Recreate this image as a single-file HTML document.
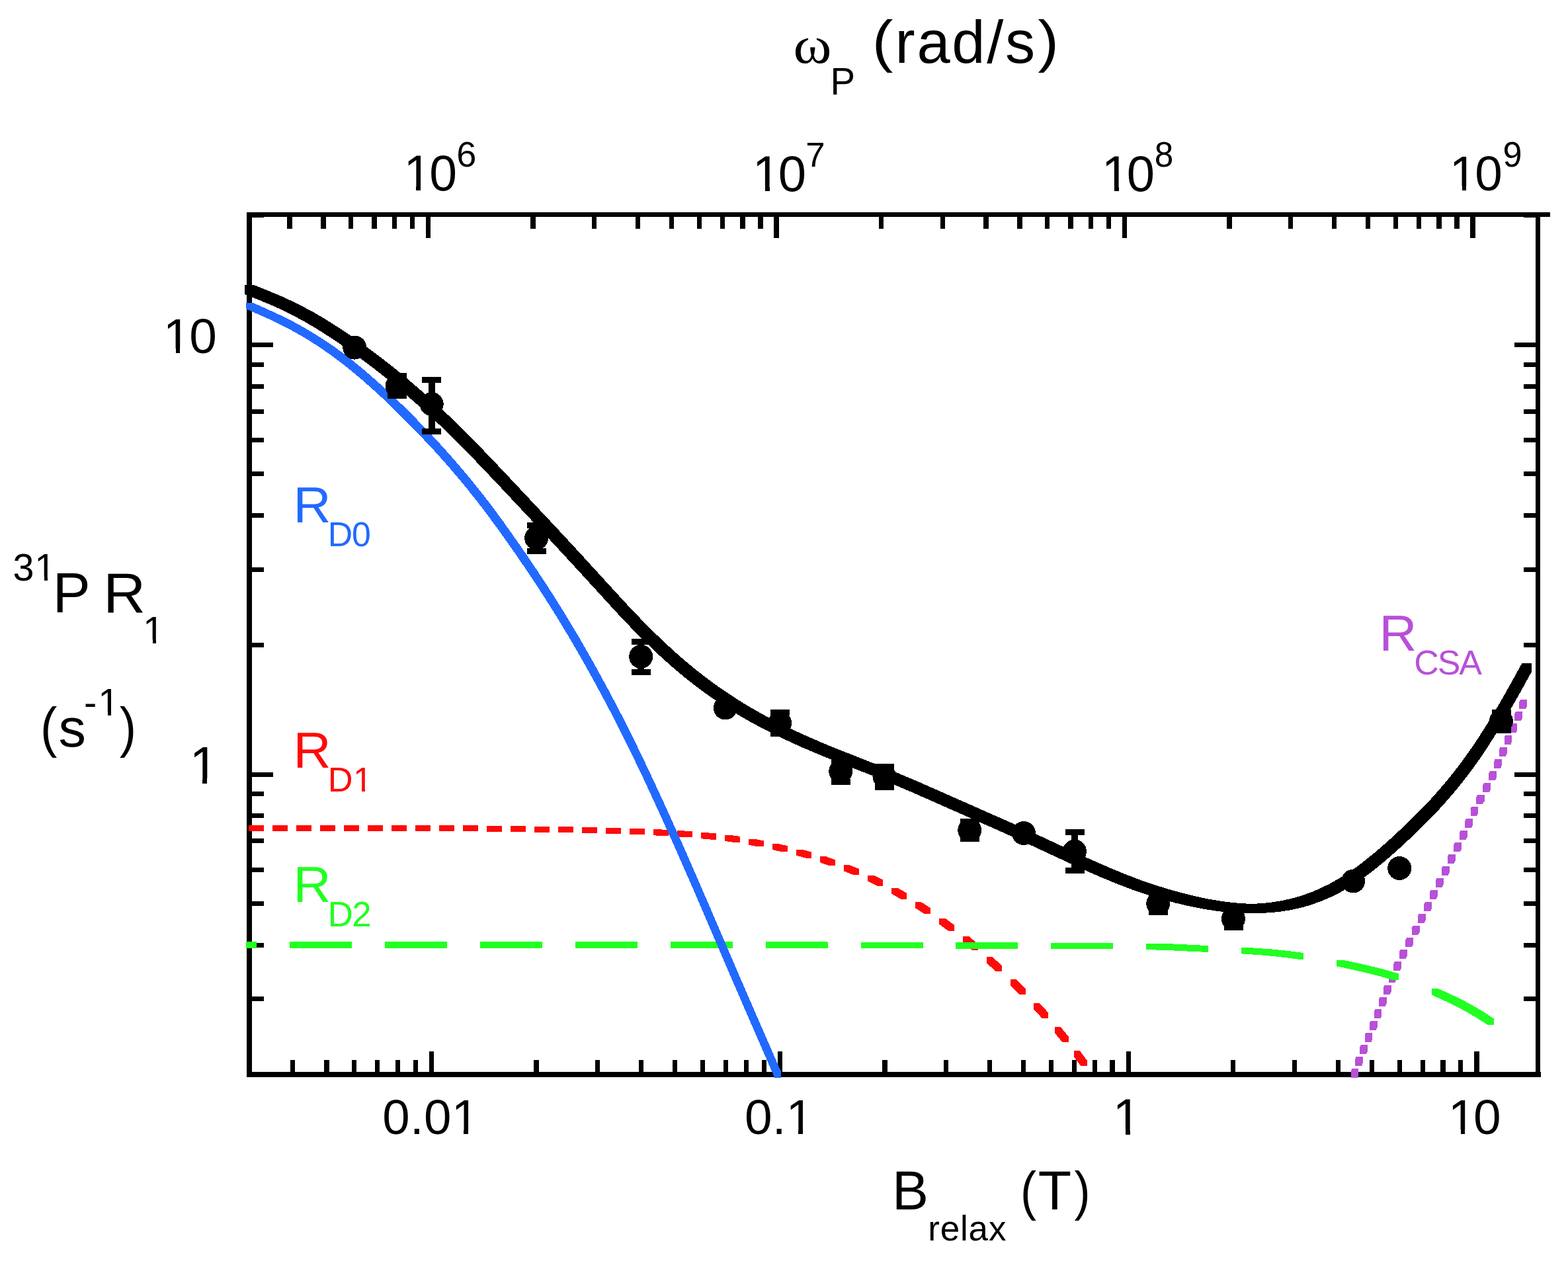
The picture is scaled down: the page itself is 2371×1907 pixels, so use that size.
<!DOCTYPE html>
<html><head><meta charset="utf-8"><title>31P R1 relaxation dispersion</title>
<style>html,body{margin:0;padding:0;background:#fff;}svg{display:block;}</style></head>
<body>
<svg xmlns="http://www.w3.org/2000/svg" width="2371" height="1907" viewBox="0 0 2371 1907" shape-rendering="crispEdges"><rect x="373.00" y="321.00" width="8.00" height="1308.00" fill="#000"/>
<rect x="2322.00" y="321.00" width="7.00" height="1308.00" fill="#000"/>
<rect x="373.00" y="321.00" width="1971.00" height="7.00" fill="#000"/>
<rect x="373.00" y="1621.00" width="1957.00" height="8.00" fill="#000"/>
<rect x="439.25" y="1603.00" width="7.20" height="18.00" fill="#000"/>
<rect x="490.31" y="1603.00" width="7.20" height="18.00" fill="#000"/>
<rect x="532.02" y="1603.00" width="7.20" height="18.00" fill="#000"/>
<rect x="567.29" y="1603.00" width="7.20" height="18.00" fill="#000"/>
<rect x="597.84" y="1603.00" width="7.20" height="18.00" fill="#000"/>
<rect x="624.79" y="1603.00" width="7.20" height="18.00" fill="#000"/>
<rect x="648.90" y="1590.00" width="7.20" height="31.00" fill="#000"/>
<rect x="807.49" y="1603.00" width="7.20" height="18.00" fill="#000"/>
<rect x="900.26" y="1603.00" width="7.20" height="18.00" fill="#000"/>
<rect x="966.08" y="1603.00" width="7.20" height="18.00" fill="#000"/>
<rect x="1017.14" y="1603.00" width="7.20" height="18.00" fill="#000"/>
<rect x="1058.85" y="1603.00" width="7.20" height="18.00" fill="#000"/>
<rect x="1094.12" y="1603.00" width="7.20" height="18.00" fill="#000"/>
<rect x="1124.67" y="1603.00" width="7.20" height="18.00" fill="#000"/>
<rect x="1151.62" y="1603.00" width="7.20" height="18.00" fill="#000"/>
<rect x="1175.73" y="1590.00" width="7.20" height="31.00" fill="#000"/>
<rect x="1334.32" y="1603.00" width="7.20" height="18.00" fill="#000"/>
<rect x="1427.09" y="1603.00" width="7.20" height="18.00" fill="#000"/>
<rect x="1492.91" y="1603.00" width="7.20" height="18.00" fill="#000"/>
<rect x="1543.97" y="1603.00" width="7.20" height="18.00" fill="#000"/>
<rect x="1585.68" y="1603.00" width="7.20" height="18.00" fill="#000"/>
<rect x="1620.95" y="1603.00" width="7.20" height="18.00" fill="#000"/>
<rect x="1651.50" y="1603.00" width="7.20" height="18.00" fill="#000"/>
<rect x="1678.45" y="1603.00" width="7.20" height="18.00" fill="#000"/>
<rect x="1702.56" y="1590.00" width="7.20" height="31.00" fill="#000"/>
<rect x="1861.15" y="1603.00" width="7.20" height="18.00" fill="#000"/>
<rect x="1953.92" y="1603.00" width="7.20" height="18.00" fill="#000"/>
<rect x="2019.74" y="1603.00" width="7.20" height="18.00" fill="#000"/>
<rect x="2070.80" y="1603.00" width="7.20" height="18.00" fill="#000"/>
<rect x="2112.51" y="1603.00" width="7.20" height="18.00" fill="#000"/>
<rect x="2147.78" y="1603.00" width="7.20" height="18.00" fill="#000"/>
<rect x="2178.33" y="1603.00" width="7.20" height="18.00" fill="#000"/>
<rect x="2205.28" y="1603.00" width="7.20" height="18.00" fill="#000"/>
<rect x="2229.39" y="1590.00" width="7.20" height="31.00" fill="#000"/>
<rect x="434.38" y="328.00" width="7.20" height="18.00" fill="#000"/>
<rect x="485.41" y="328.00" width="7.20" height="18.00" fill="#000"/>
<rect x="527.10" y="328.00" width="7.20" height="18.00" fill="#000"/>
<rect x="562.34" y="328.00" width="7.20" height="18.00" fill="#000"/>
<rect x="592.88" y="328.00" width="7.20" height="18.00" fill="#000"/>
<rect x="619.81" y="328.00" width="7.20" height="18.00" fill="#000"/>
<rect x="643.90" y="328.00" width="7.20" height="32.00" fill="#000"/>
<rect x="802.39" y="328.00" width="7.20" height="18.00" fill="#000"/>
<rect x="895.10" y="328.00" width="7.20" height="18.00" fill="#000"/>
<rect x="960.88" y="328.00" width="7.20" height="18.00" fill="#000"/>
<rect x="1011.91" y="328.00" width="7.20" height="18.00" fill="#000"/>
<rect x="1053.60" y="328.00" width="7.20" height="18.00" fill="#000"/>
<rect x="1088.84" y="328.00" width="7.20" height="18.00" fill="#000"/>
<rect x="1119.38" y="328.00" width="7.20" height="18.00" fill="#000"/>
<rect x="1146.31" y="328.00" width="7.20" height="18.00" fill="#000"/>
<rect x="1170.40" y="328.00" width="7.20" height="32.00" fill="#000"/>
<rect x="1328.89" y="328.00" width="7.20" height="18.00" fill="#000"/>
<rect x="1421.60" y="328.00" width="7.20" height="18.00" fill="#000"/>
<rect x="1487.38" y="328.00" width="7.20" height="18.00" fill="#000"/>
<rect x="1538.41" y="328.00" width="7.20" height="18.00" fill="#000"/>
<rect x="1580.10" y="328.00" width="7.20" height="18.00" fill="#000"/>
<rect x="1615.34" y="328.00" width="7.20" height="18.00" fill="#000"/>
<rect x="1645.88" y="328.00" width="7.20" height="18.00" fill="#000"/>
<rect x="1672.81" y="328.00" width="7.20" height="18.00" fill="#000"/>
<rect x="1696.90" y="328.00" width="7.20" height="32.00" fill="#000"/>
<rect x="1855.39" y="328.00" width="7.20" height="18.00" fill="#000"/>
<rect x="1948.10" y="328.00" width="7.20" height="18.00" fill="#000"/>
<rect x="2013.88" y="328.00" width="7.20" height="18.00" fill="#000"/>
<rect x="2064.91" y="328.00" width="7.20" height="18.00" fill="#000"/>
<rect x="2106.60" y="328.00" width="7.20" height="18.00" fill="#000"/>
<rect x="2141.84" y="328.00" width="7.20" height="18.00" fill="#000"/>
<rect x="2172.38" y="328.00" width="7.20" height="18.00" fill="#000"/>
<rect x="2199.31" y="328.00" width="7.20" height="18.00" fill="#000"/>
<rect x="2223.40" y="328.00" width="7.20" height="32.00" fill="#000"/>
<rect x="381.00" y="1621.55" width="18.00" height="7.00" fill="#000"/>
<rect x="2304.00" y="1621.55" width="18.00" height="7.00" fill="#000"/>
<rect x="381.00" y="1507.16" width="18.00" height="7.00" fill="#000"/>
<rect x="2304.00" y="1507.16" width="18.00" height="7.00" fill="#000"/>
<rect x="381.00" y="1426.00" width="18.00" height="7.00" fill="#000"/>
<rect x="2304.00" y="1426.00" width="18.00" height="7.00" fill="#000"/>
<rect x="381.00" y="1363.05" width="18.00" height="7.00" fill="#000"/>
<rect x="2304.00" y="1363.05" width="18.00" height="7.00" fill="#000"/>
<rect x="381.00" y="1311.61" width="18.00" height="7.00" fill="#000"/>
<rect x="2304.00" y="1311.61" width="18.00" height="7.00" fill="#000"/>
<rect x="381.00" y="1268.12" width="18.00" height="7.00" fill="#000"/>
<rect x="2304.00" y="1268.12" width="18.00" height="7.00" fill="#000"/>
<rect x="381.00" y="1230.45" width="18.00" height="7.00" fill="#000"/>
<rect x="2304.00" y="1230.45" width="18.00" height="7.00" fill="#000"/>
<rect x="381.00" y="1197.22" width="18.00" height="7.00" fill="#000"/>
<rect x="2304.00" y="1197.22" width="18.00" height="7.00" fill="#000"/>
<rect x="381.00" y="1167.50" width="32.00" height="7.00" fill="#000"/>
<rect x="2290.00" y="1167.50" width="32.00" height="7.00" fill="#000"/>
<rect x="381.00" y="971.95" width="18.00" height="7.00" fill="#000"/>
<rect x="2304.00" y="971.95" width="18.00" height="7.00" fill="#000"/>
<rect x="381.00" y="857.56" width="18.00" height="7.00" fill="#000"/>
<rect x="2304.00" y="857.56" width="18.00" height="7.00" fill="#000"/>
<rect x="381.00" y="776.40" width="18.00" height="7.00" fill="#000"/>
<rect x="2304.00" y="776.40" width="18.00" height="7.00" fill="#000"/>
<rect x="381.00" y="713.45" width="18.00" height="7.00" fill="#000"/>
<rect x="2304.00" y="713.45" width="18.00" height="7.00" fill="#000"/>
<rect x="381.00" y="662.01" width="18.00" height="7.00" fill="#000"/>
<rect x="2304.00" y="662.01" width="18.00" height="7.00" fill="#000"/>
<rect x="381.00" y="618.52" width="18.00" height="7.00" fill="#000"/>
<rect x="2304.00" y="618.52" width="18.00" height="7.00" fill="#000"/>
<rect x="381.00" y="580.85" width="18.00" height="7.00" fill="#000"/>
<rect x="2304.00" y="580.85" width="18.00" height="7.00" fill="#000"/>
<rect x="381.00" y="547.62" width="18.00" height="7.00" fill="#000"/>
<rect x="2304.00" y="547.62" width="18.00" height="7.00" fill="#000"/>
<rect x="381.00" y="517.90" width="32.00" height="7.00" fill="#000"/>
<rect x="2290.00" y="517.90" width="32.00" height="7.00" fill="#000"/>
<rect x="381.00" y="322.35" width="18.00" height="7.00" fill="#000"/>
<rect x="2304.00" y="322.35" width="18.00" height="7.00" fill="#000"/>
<rect x="381.00" y="322.35" width="18.00" height="7.00" fill="#000"/>
<rect x="2304.00" y="322.35" width="18.00" height="7.00" fill="#000"/>
<rect x="381.00" y="1621.55" width="18.00" height="7.00" fill="#000"/>
<rect x="2304.00" y="1621.55" width="18.00" height="7.00" fill="#000"/>
<path d="M2044.3 1615.5 2042.9 1619.5 2042.9 1629.5 2052.9 1629.5 2054.3 1625.5 2054.3 1615.5ZM2050.8 1597.5 2049.3 1601.5 2049.3 1611.5 2059.3 1611.5 2060.8 1607.5 2060.8 1597.5ZM2058 1579.5 2056.4 1583.5 2056.4 1593.5 2066.4 1593.5 2068 1589.5 2068 1579.5ZM2065.3 1561.5 2063.7 1565.5 2063.7 1575.5 2073.7 1575.5 2075.3 1571.5 2075.3 1561.5ZM2072.5 1543.5 2070.9 1547.5 2070.9 1557.5 2080.9 1557.5 2082.5 1553.5 2082.5 1543.5ZM2079.3 1525.5 2077.8 1529.5 2077.8 1539.5 2087.8 1539.5 2089.3 1535.5 2089.3 1525.5ZM2086.5 1507.5 2084.9 1511.5 2084.9 1521.5 2094.9 1521.5 2096.5 1517.5 2096.5 1507.5ZM2093.7 1489.5 2092.1 1493.5 2092.1 1503.5 2102.1 1503.5 2103.7 1499.5 2103.7 1489.5ZM2101.2 1471.5 2099.5 1475.5 2099.5 1485.5 2109.5 1485.5 2111.2 1481.5 2111.2 1471.5ZM2109 1453.5 2107.2 1457.5 2107.2 1467.5 2117.2 1467.5 2119 1463.5 2119 1453.5ZM2117.7 1435.5 2115.7 1439.5 2115.7 1449.5 2125.7 1449.5 2127.7 1445.5 2127.7 1435.5ZM2127.1 1417.5 2125 1421.5 2125 1431.5 2135 1431.5 2137.1 1427.5 2137.1 1417.5ZM2136.6 1399.5 2134.5 1403.5 2134.5 1413.5 2144.5 1413.5 2146.6 1409.5 2146.6 1399.5ZM2145.9 1381.5 2143.9 1385.5 2143.9 1395.5 2153.9 1395.5 2155.9 1391.5 2155.9 1381.5ZM2155 1363.5 2153 1367.5 2153 1377.5 2163 1377.5 2165 1373.5 2165 1363.5ZM2163.7 1345.5 2161.8 1349.5 2161.8 1359.5 2171.8 1359.5 2173.7 1355.5 2173.7 1345.5ZM2172.6 1327.5 2170.6 1331.5 2170.6 1341.5 2180.6 1341.5 2182.6 1337.5 2182.6 1327.5ZM2181.7 1309.5 2179.6 1313.5 2179.6 1323.5 2189.6 1323.5 2191.7 1319.5 2191.7 1309.5ZM2190.8 1291.5 2188.8 1295.5 2188.8 1305.5 2198.8 1305.5 2200.8 1301.5 2200.8 1291.5ZM2200 1273.5 2198 1277.5 2198 1287.5 2208 1287.5 2210 1283.5 2210 1273.5ZM2208.8 1255.5 2206.9 1259.5 2206.9 1269.5 2216.9 1269.5 2218.8 1265.5 2218.8 1255.5ZM2217.1 1237.5 2215.3 1241.5 2215.3 1251.5 2225.3 1251.5 2227.1 1247.5 2227.1 1237.5ZM2225.4 1219.5 2223.5 1223.5 2223.5 1233.5 2233.5 1233.5 2235.4 1229.5 2235.4 1219.5ZM2234.5 1201.5 2232.4 1205.5 2232.4 1215.5 2242.4 1215.5 2244.5 1211.5 2244.5 1201.5ZM2244 1183.5 2242 1187.5 2242 1197.5 2252 1197.5 2254 1193.5 2254 1183.5ZM2253 1165.5 2251.1 1169.5 2251.1 1179.5 2261.1 1179.5 2263 1175.5 2263 1165.5ZM2260.9 1147.5 2259.2 1151.5 2259.2 1161.5 2269.2 1161.5 2270.9 1157.5 2270.9 1147.5ZM2268.5 1129.5 2266.8 1133.5 2266.8 1143.5 2276.8 1143.5 2278.5 1139.5 2278.5 1129.5ZM2276.4 1111.5 2274.6 1115.5 2274.6 1125.5 2284.6 1125.5 2286.4 1121.5 2286.4 1111.5ZM2284.4 1093.5 2282.7 1097.5 2282.7 1107.5 2292.7 1107.5 2294.4 1103.5 2294.4 1093.5ZM2292 1075.5 2290.3 1079.5 2290.3 1089.5 2300.3 1089.5 2302 1085.5 2302 1075.5ZM2298.9 1057.5 2297.4 1061.5 2297.4 1071.5 2307.4 1071.5 2308.9 1067.5 2308.9 1057.5Z" fill="#b850d8"/>
<path d="M376 1257 399 1257 399 1248 376 1248ZM412 1257 435 1257 435 1248 412 1248ZM471 1248 448 1248 448 1257 471 1257ZM507 1248 484 1248 484 1257 507 1257ZM543 1248 520 1248 520 1257 543 1257ZM579 1248 556 1248 556 1257 579 1257ZM615 1248 592 1248 592 1257 615 1257ZM628 1257 651 1257 651 1248 628 1248ZM664 1257.1 687 1257.1 687 1248.1 664 1248.1ZM700 1257.3 723 1257.4 723 1248.4 700 1248.3ZM736 1257.6 759 1257.8 759 1248.8 736 1248.6ZM772 1258.1 795 1258.2 795 1249.2 772 1249.1ZM808 1258.5 831 1258.7 831 1249.7 808 1249.5ZM844 1259 867 1259.2 867 1250.2 844 1250ZM880 1259.7 903 1260 903 1251 880 1250.7ZM916 1260.7 930 1261.2 939 1261.2 939 1252.2 925 1251.7 916 1251.7ZM952 1261.9 966 1262.4 975 1262.4 975 1253.4 961 1252.9 952 1252.9ZM988 1263.3 1002 1264.1 1011 1264.1 1011 1255.1 997 1254.3 988 1254.3ZM1024 1265.4 1038 1266.4 1047 1266.4 1047 1257.4 1033 1256.4 1024 1256.4ZM1060 1268.2 1074 1269.5 1083 1269.5 1083 1260.5 1069 1259.2 1060 1259.2ZM1096 1272 1110 1274 1119 1274 1119 1265 1105 1263 1096 1263ZM1132 1277.7 1146 1280.4 1155 1280.4 1155 1271.4 1141 1268.7 1132 1268.7ZM1168 1285.1 1182 1288.2 1191 1288.2 1191 1279.2 1177 1276.1 1168 1276.1ZM1204 1293.7 1218 1297.5 1227 1297.5 1227 1288.5 1213 1284.7 1204 1284.7ZM1240 1304.3 1254 1309.1 1263 1309.1 1263 1300.1 1249 1295.3 1240 1295.3ZM1276 1317.3 1290 1323 1299 1323 1299 1314 1285 1308.3 1276 1308.3ZM1312 1332.7 1326 1339.6 1335 1339.6 1335 1330.6 1321 1323.7 1312 1323.7ZM1348 1351.5 1362 1359.6 1371 1359.6 1371 1350.6 1357 1342.5 1348 1342.5ZM1384 1373.2 1398 1382.4 1407 1382.4 1407 1373.4 1393 1364.2 1384 1364.2ZM1420 1397.6 1434 1407.8 1443 1407.8 1443 1398.8 1429 1388.6 1420 1388.6ZM1456 1425 1470 1436.8 1479 1436.8 1479 1427.8 1465 1416 1456 1416ZM1492 1456.4 1506 1469.4 1515 1469.4 1515 1460.4 1501 1447.4 1492 1447.4ZM1528 1490.4 1542 1504.3 1551 1504.3 1551 1495.3 1537 1481.4 1528 1481.4ZM1563.2 1526.3 1576 1540.3 1585 1540.3 1585 1531.3 1572.2 1517.3 1563.2 1517.3ZM1595 1562.3 1606.5 1576.3 1615.5 1576.3 1615.5 1567.3 1604 1553.3 1595 1553.3ZM1623.9 1598.3 1634.6 1612.3 1643.6 1612.3 1643.6 1603.3 1632.9 1589.3 1623.9 1589.3Z" fill="#ff0a0a"/>
<path d="M372.2 1433.8 388.1 1433.8 388.1 1424.3 372.2 1424.3ZM438.1 1433.8 532 1433.8 532 1424.3 438.1 1424.3ZM676 1424.2 582 1424.3 582 1433.8 676 1433.7ZM819.9 1424.2 725.9 1424.2 725.9 1433.7 819.9 1433.7ZM869.8 1433.7 963.8 1433.8 963.8 1424.3 869.8 1424.2ZM1013.7 1433.8 1107.7 1433.9 1107.7 1424.4 1013.7 1424.3ZM1157.5 1433.9 1251.5 1434 1251.5 1424.5 1157.5 1424.4ZM1301.5 1434.1 1395.5 1434.3 1395.5 1424.8 1301.5 1424.6ZM1445.4 1434.5 1539.4 1434.9 1539.4 1425.4 1445.4 1425ZM1589.2 1435.1 1683.2 1435.3 1683.2 1425.8 1589.2 1425.6ZM1733.2 1436 1768.2 1437.2 1817.7 1439.6 1827.2 1439.6 1827.2 1430.1 1767.8 1427.2 1742.7 1426.5 1733.2 1426.5ZM1877.1 1442.4 1904.2 1444.2 1924.2 1446 1944.2 1448.2 1961.6 1450.5 1971.1 1450.5 1971.1 1441 1947.8 1438 1921.8 1435.4 1886.6 1432.9 1877.1 1432.9ZM2021 1461.2 2050.2 1467.5 2070.2 1472.2 2088.2 1476.9 2105.5 1482 2115 1482 2115 1472.5 2101.8 1468.6 2087.8 1464.7 2057.8 1457.5 2030.5 1451.7 2021 1451.7ZM2164.8 1504.5 2194.2 1518 2214.2 1528.4 2232.2 1538.8 2249.3 1549.9 2258.8 1549.9 2258.8 1540.4 2245.8 1531.8 2233.8 1524.5 2219.8 1516.7 2205.8 1509.5 2189.8 1501.8 2174.3 1495 2164.8 1495Z" fill="#22ff22"/>
<path d="M372.2 467.1 408.6 483.4 432.4 495.1 444.3 501.5 455.5 507.9 466.7 514.6 477.9 521.7 489.1 529.2 500.3 537 511.5 545.3 522.7 553.9 545.1 572.3 569.6 594.1 583.6 607.1 598.3 621.3 627.7 650.8 655.7 680.6 669.7 696.1 683 711.3 706.8 739.8 729.2 768.2 753 800.3 778.9 837 800.6 868.8 820.9 899.7 839.8 929.6 858.7 960.8 878.3 994.4 897.9 1029.4 917.5 1065.8 935.7 1100.9 953.9 1137.6 972.8 1177.1 995.9 1227 1018.3 1276.6 1048.4 1345.2 1118.4 1508.2 1171.2 1629.6 1180.8 1629.6 1180.8 1620.1 1127.9 1498.7 1055.8 1330.9 1030.6 1273.4 1007.5 1222.1 983 1169.1 961.3 1123.8 941.7 1084.6 920.7 1044.5 899 1004.8 877.3 966.8 856.3 931.5 835.3 897.9 812.9 863.5 788.4 827.5 760.4 787.9 747.8 770.8 735.2 754.1 723.3 739 710.7 723.4 698.1 708.4 684.8 693 670.1 676.5 654.7 659.7 639.3 643.5 623.2 627 607.1 611.1 591 595.6 575.6 581.4 560.9 568.3 546.9 556.3 532.9 545 518.9 534.2 505.6 524.5 491.6 515 477.6 506 463.6 497.6 448.9 489.3 434.9 482 420.2 474.9 404.1 467.5 381.8 457.6 372.2 457.6Z" fill="#226aff"/>
<path d="M370 445.1 397 455.9 411 461.8 424 467.6 437 473.9 450 480.7 462 487.3 475 494.9 489 503.6 505 514 522 525.6 539 537.6 555 549.4 571 561.7 587 574.4 603 587.6 619 601.3 645 624.3 668 645.7 690 667.2 716 693.8 754 733.7 834 819.1 867 854.8 936 930.2 955 950.1 973 968.2 988 982.7 1002 995.7 1017 1009 1031 1020.9 1045 1032.1 1060 1043.6 1074 1053.7 1089 1063.9 1102 1072.3 1116 1080.9 1130 1089.1 1145 1097.3 1160 1105.2 1176 1113.2 1193 1121.2 1210 1129 1228 1136.7 1246 1144.2 1329 1177 1379 1198.1 1512 1256.9 1551 1274.6 1626 1309.5 1648 1319.4 1667 1327.6 1690 1337 1711 1345 1732 1352.2 1754 1359 1777 1365.4 1799 1370.6 1820 1374.7 1840 1377.8 1858 1379.8 1875 1380.8 1902 1381 1918 1380.4 1935 1378.8 1951 1376.3 1967 1372.8 1982 1368.5 1997 1363.2 2012 1356.8 2026 1349.8 2041 1341.2 2058 1330.2 2067 1323.8 2076 1317 2094 1302.4 2114 1284.9 2138 1262.6 2160 1241 2179 1220.9 2197 1200.5 2212 1182.1 2226 1163.7 2239 1145.4 2253 1124.3 2267 1102 2281 1078.4 2296 1052.1 2315.7 1016.5 2315.7 1002.5 2301.7 1002.5 2281 1039.9 2266 1066.2 2252 1089.6 2238 1111.9 2224 1132.8 2211 1151 2197 1169.4 2182 1187.7 2164 1208 2144 1229 2122 1250.5 2098 1272.7 2078 1290.1 2060 1304.5 2051 1311.2 2042 1317.5 2025 1328.4 2011 1336.3 1996 1343.7 1982 1349.6 1967 1354.8 1952 1359.1 1936 1362.5 1920 1364.9 1904 1366.4 1892.5 1366.9 1878 1366.2 1861 1364.7 1842 1362.1 1824 1358.9 1806 1355.1 1787 1350.3 1768 1345 1746 1338.2 1725 1331 1704 1323 1681 1313.6 1662 1305.4 1640 1295.5 1565 1260.6 1526 1242.9 1393 1184.1 1367 1173 1342 1162.6 1261 1130.6 1243 1123.2 1226 1115.8 1209 1108.2 1193 1100.6 1178 1093.2 1163 1085.5 1149 1077.9 1136 1070.5 1123 1062.7 1110 1054.5 1095 1044.5 1080 1034 1065 1022.8 1051 1011.8 1037 1000.2 1022 987.1 1007 973.4 992 959.1 972 939.2 952 918.3 932 896.7 879 838.6 841 797.6 760 711.3 719 668.4 692 641.3 668 618.5 639 592.5 610 567.8 591 552.4 571 536.9 551 522.2 531 508.1 511 494.8 492 482.7 474 472.2 457 463 441 455.1 425 447.8 408 440.6 384 431.1 370 431.1Z" fill="#000"/>
<circle cx="536.3" cy="525.6" r="18" fill="#000"/>
<rect x="595.50" y="564.20" width="10.00" height="39.10" fill="#000"/>
<rect x="586.00" y="564.20" width="29.00" height="9.00" fill="#000"/>
<rect x="586.00" y="594.30" width="29.00" height="9.00" fill="#000"/>
<circle cx="600.5" cy="583.75" r="18" fill="#000"/>
<rect x="647.70" y="570.00" width="10.00" height="86.50" fill="#000"/>
<rect x="638.20" y="570.00" width="29.00" height="9.00" fill="#000"/>
<rect x="638.20" y="647.50" width="29.00" height="9.00" fill="#000"/>
<circle cx="652.7" cy="611.1" r="18" fill="#000"/>
<rect x="806.10" y="790.00" width="10.00" height="47.50" fill="#000"/>
<rect x="796.60" y="790.00" width="29.00" height="9.00" fill="#000"/>
<rect x="796.60" y="828.50" width="29.00" height="9.00" fill="#000"/>
<circle cx="811.1" cy="813.75" r="18" fill="#000"/>
<rect x="964.20" y="965.80" width="10.00" height="55.00" fill="#000"/>
<rect x="954.70" y="965.80" width="29.00" height="9.00" fill="#000"/>
<rect x="954.70" y="1011.80" width="29.00" height="9.00" fill="#000"/>
<circle cx="969.2" cy="993" r="18" fill="#000"/>
<circle cx="1096.8" cy="1070.5" r="18" fill="#000"/>
<rect x="1174.20" y="1073.30" width="10.00" height="40.90" fill="#000"/>
<rect x="1164.70" y="1073.30" width="29.00" height="9.00" fill="#000"/>
<rect x="1164.70" y="1105.20" width="29.00" height="9.00" fill="#000"/>
<circle cx="1179.2" cy="1093.75" r="18" fill="#000"/>
<rect x="1266.25" y="1145.75" width="10.00" height="41.00" fill="#000"/>
<rect x="1256.75" y="1145.75" width="29.00" height="9.00" fill="#000"/>
<rect x="1256.75" y="1177.75" width="29.00" height="9.00" fill="#000"/>
<circle cx="1271.25" cy="1166.25" r="18" fill="#000"/>
<rect x="1332.50" y="1155.00" width="10.00" height="40.00" fill="#000"/>
<rect x="1323.00" y="1155.00" width="29.00" height="9.00" fill="#000"/>
<rect x="1323.00" y="1186.00" width="29.00" height="9.00" fill="#000"/>
<circle cx="1337.5" cy="1174.5" r="18" fill="#000"/>
<rect x="1461.25" y="1237.50" width="10.00" height="35.00" fill="#000"/>
<rect x="1451.75" y="1237.50" width="29.00" height="9.00" fill="#000"/>
<rect x="1451.75" y="1263.50" width="29.00" height="9.00" fill="#000"/>
<circle cx="1466.25" cy="1255.5" r="18" fill="#000"/>
<circle cx="1548" cy="1260" r="18" fill="#000"/>
<rect x="1620.00" y="1254.00" width="10.00" height="66.75" fill="#000"/>
<rect x="1610.50" y="1254.00" width="29.00" height="9.00" fill="#000"/>
<rect x="1610.50" y="1311.75" width="29.00" height="9.00" fill="#000"/>
<circle cx="1625" cy="1287.5" r="18" fill="#000"/>
<rect x="1746.25" y="1348.75" width="10.00" height="35.00" fill="#000"/>
<rect x="1736.75" y="1348.75" width="29.00" height="9.00" fill="#000"/>
<rect x="1736.75" y="1374.75" width="29.00" height="9.00" fill="#000"/>
<circle cx="1751.25" cy="1366.25" r="18" fill="#000"/>
<rect x="1860.00" y="1372.00" width="10.00" height="35.00" fill="#000"/>
<rect x="1850.50" y="1372.00" width="29.00" height="9.00" fill="#000"/>
<rect x="1850.50" y="1398.00" width="29.00" height="9.00" fill="#000"/>
<circle cx="1865" cy="1389.5" r="18" fill="#000"/>
<circle cx="2046.25" cy="1332.5" r="18" fill="#000"/>
<circle cx="2116.25" cy="1313" r="18" fill="#000"/>
<rect x="2265.00" y="1072.50" width="10.00" height="36.00" fill="#000"/>
<rect x="2255.50" y="1072.50" width="29.00" height="9.00" fill="#000"/>
<rect x="2255.50" y="1099.50" width="29.00" height="9.00" fill="#000"/>
<circle cx="2270" cy="1090.5" r="18" fill="#000"/>
<text x="578.34 620.03 640.99 682.68" y="1714.77" font-family='"Liberation Sans", Arial, Helvetica, sans-serif' font-size="74.50" fill="#000">0.01</text>
<text x="1126.08 1167.74 1188.56" y="1715.17" font-family='"Liberation Sans", Arial, Helvetica, sans-serif' font-size="74.86" fill="#000">0.1</text>
<text x="1682.49" y="1715.90" font-family='"Liberation Sans", Arial, Helvetica, sans-serif' font-size="77.04" fill="#000">1</text>
<text x="2189.80 2228.09" y="1715.27" font-family='"Liberation Sans", Arial, Helvetica, sans-serif' font-size="74.86" fill="#000">10</text>
<text x="610.47 649.35" y="288.47" font-family='"Liberation Sans", Arial, Helvetica, sans-serif' font-size="75.14" fill="#000">10</text>
<text transform="translate(690.25 252.38) scale(1.0202 1)" x="0" y="0" font-family='"Liberation Sans", Arial, Helvetica, sans-serif' font-size="53.11" fill="#000">6</text>
<text x="1137.68 1176.63" y="289.16" font-family='"Liberation Sans", Arial, Helvetica, sans-serif' font-size="76.13" fill="#000">10</text>
<text transform="translate(1218.29 251.90) scale(1.0118 1)" x="0" y="0" font-family='"Liberation Sans", Arial, Helvetica, sans-serif' font-size="52.18" fill="#000">7</text>
<text x="1665.69 1703.71" y="289.06" font-family='"Liberation Sans", Arial, Helvetica, sans-serif' font-size="75.99" fill="#000">10</text>
<text transform="translate(1745.77 252.28) scale(0.9645 1)" x="0" y="0" font-family='"Liberation Sans", Arial, Helvetica, sans-serif' font-size="53.25" fill="#000">8</text>
<text x="2191.81 2230.26" y="288.27" font-family='"Liberation Sans", Arial, Helvetica, sans-serif' font-size="74.72" fill="#000">10</text>
<text transform="translate(2272.45 252.48) scale(0.9798 1)" x="0" y="0" font-family='"Liberation Sans", Arial, Helvetica, sans-serif' font-size="53.25" fill="#000">9</text>
<text x="246.70 286.19" y="534.17" font-family='"Liberation Sans", Arial, Helvetica, sans-serif' font-size="74.86" fill="#000">10</text>
<text x="286.41" y="1185.20" font-family='"Liberation Sans", Arial, Helvetica, sans-serif' font-size="78.93" fill="#000">1</text>
<text transform="translate(1199.46 94.81) scale(1.0892 1)" x="0" y="0" font-family='"Liberation Serif", "Times New Roman", serif' font-size="80.88" fill="#000">ω</text>
<text transform="translate(1255.38 142.50) scale(0.9756 1)" x="0" y="0" font-family='"Liberation Sans", Arial, Helvetica, sans-serif' font-size="57.78" fill="#000">P</text>
<text transform="translate(1318.84 91.69) scale(1.1008 1)" x="0" y="0" font-family='"Liberation Sans", Arial, Helvetica, sans-serif' font-size="86.51" fill="#000">(</text>
<text x="1353.60 1386.41 1439.35 1492.30 1520.12" y="95.42" font-family='"Liberation Sans", Arial, Helvetica, sans-serif' font-size="90.28" fill="#000">rad/s</text>
<text transform="translate(1569.24 91.96) scale(1.0948 1)" x="0" y="0" font-family='"Liberation Sans", Arial, Helvetica, sans-serif' font-size="87.16" fill="#000">)</text>
<text transform="translate(1349.03 1828.70) scale(0.9801 1)" x="0" y="0" font-family='"Liberation Sans", Arial, Helvetica, sans-serif' font-size="84.16" fill="#000">B</text>
<text x="1403.18 1421.67 1451.97 1464.58 1494.88" y="1876.18" font-family='"Liberation Sans", Arial, Helvetica, sans-serif' font-size="52.97" fill="#000">relax</text>
<text transform="translate(1543.01 1828.50) scale(0.8924 1)" x="0" y="0" font-family='"Liberation Sans", Arial, Helvetica, sans-serif' font-size="81.15" fill="#000">(</text>
<text transform="translate(1569.85 1828.70) scale(0.9793 1)" x="0" y="0" font-family='"Liberation Sans", Arial, Helvetica, sans-serif' font-size="84.16" fill="#000">T</text>
<text transform="translate(1624.58 1828.50) scale(0.8924 1)" x="0" y="0" font-family='"Liberation Sans", Arial, Helvetica, sans-serif' font-size="81.15" fill="#000">)</text>
<text x="19.61 52.16" y="878.14" font-family='"Liberation Sans", Arial, Helvetica, sans-serif' font-size="57.49" fill="#000">31</text>
<text transform="translate(79.80 926.20) scale(0.9913 1)" x="0" y="0" font-family='"Liberation Sans", Arial, Helvetica, sans-serif' font-size="86.05" fill="#000">P</text>
<text transform="translate(156.25 926.20) scale(1.0276 1)" x="0" y="0" font-family='"Liberation Sans", Arial, Helvetica, sans-serif' font-size="86.05" fill="#000">R</text>
<text x="215.89" y="973.00" font-family='"Liberation Sans", Arial, Helvetica, sans-serif' font-size="58.29" fill="#000">1</text>
<text transform="translate(60.98 1128.81) scale(0.9230 1)" x="0" y="0" font-family='"Liberation Sans", Arial, Helvetica, sans-serif' font-size="82.54" fill="#000">(</text>
<text transform="translate(88.49 1129.10) scale(1.0125 1)" x="0" y="0" font-family='"Liberation Sans", Arial, Helvetica, sans-serif' font-size="81.99" fill="#000">s</text>
<text x="127.12 148.29" y="1081.90" font-family='"Liberation Sans", Arial, Helvetica, sans-serif' font-size="58.00" fill="#000">-1</text>
<text transform="translate(180.75 1128.81) scale(0.9230 1)" x="0" y="0" font-family='"Liberation Sans", Arial, Helvetica, sans-serif' font-size="82.54" fill="#000">)</text>
<text transform="translate(443.52 789.80) scale(1.0511 1)" x="0" y="0" font-family='"Liberation Sans", Arial, Helvetica, sans-serif' font-size="75.15" fill="#226aff">R</text>
<text x="495.85 532.10" y="826.29" font-family='"Liberation Sans", Arial, Helvetica, sans-serif' font-size="51.84" fill="#226aff">D0</text>
<text transform="translate(443.52 1160.90) scale(1.0273 1)" x="0" y="0" font-family='"Liberation Sans", Arial, Helvetica, sans-serif' font-size="76.89" fill="#ff0a0a">R</text>
<text x="495.81 534.12" y="1196.90" font-family='"Liberation Sans", Arial, Helvetica, sans-serif' font-size="52.33" fill="#ff0a0a">D1</text>
<text transform="translate(443.52 1363.90) scale(1.0491 1)" x="0" y="0" font-family='"Liberation Sans", Arial, Helvetica, sans-serif' font-size="75.29" fill="#22ff22">R</text>
<text x="495.76 532.27" y="1401.00" font-family='"Liberation Sans", Arial, Helvetica, sans-serif' font-size="52.85" fill="#22ff22">D2</text>
<text transform="translate(2085.53 983.80) scale(1.0290 1)" x="0" y="0" font-family='"Liberation Sans", Arial, Helvetica, sans-serif' font-size="76.60" fill="#b850d8">R</text>
<text x="2138.36 2173.78 2206.33" y="1020.29" font-family='"Liberation Sans", Arial, Helvetica, sans-serif' font-size="51.98" fill="#b850d8">CSA</text>
<rect x="686.64" y="1707.21" width="14.78" height="9.57" fill="#fff"/>
<rect x="708.00" y="1707.21" width="14.20" height="9.57" fill="#fff"/>
<rect x="1192.54" y="1707.58" width="14.84" height="9.59" fill="#fff"/>
<rect x="1214.00" y="1707.58" width="14.26" height="9.59" fill="#fff"/>
<rect x="1686.63" y="1708.14" width="15.23" height="9.76" fill="#fff"/>
<rect x="1708.67" y="1708.14" width="14.63" height="9.76" fill="#fff"/>
<rect x="2193.78" y="1707.68" width="14.84" height="9.59" fill="#fff"/>
<rect x="2215.24" y="1707.68" width="14.26" height="9.59" fill="#fff"/>
<rect x="614.48" y="280.85" width="14.89" height="9.61" fill="#fff"/>
<rect x="636.01" y="280.85" width="14.30" height="9.61" fill="#fff"/>
<rect x="1141.75" y="281.47" width="15.07" height="9.69" fill="#fff"/>
<rect x="1163.55" y="281.47" width="14.47" height="9.69" fill="#fff"/>
<rect x="1669.76" y="281.38" width="15.04" height="9.68" fill="#fff"/>
<rect x="1691.51" y="281.38" width="14.45" height="9.68" fill="#fff"/>
<rect x="2195.79" y="280.69" width="14.82" height="9.58" fill="#fff"/>
<rect x="2217.20" y="280.69" width="14.23" height="9.58" fill="#fff"/>
<rect x="250.68" y="526.58" width="14.84" height="9.59" fill="#fff"/>
<rect x="272.14" y="526.58" width="14.26" height="9.59" fill="#fff"/>
<rect x="290.69" y="1177.30" width="15.57" height="9.90" fill="#fff"/>
<rect x="313.23" y="1177.30" width="14.95" height="9.90" fill="#fff"/>
<rect x="54.87" y="871.84" width="11.75" height="8.29" fill="#fff"/>
<rect x="71.70" y="871.84" width="11.30" height="8.29" fill="#fff"/>
<rect x="218.66" y="966.65" width="11.89" height="8.35" fill="#fff"/>
<rect x="235.70" y="966.65" width="11.43" height="8.35" fill="#fff"/>
<rect x="151.04" y="1075.57" width="11.84" height="8.33" fill="#fff"/>
<rect x="168.00" y="1075.57" width="11.38" height="8.33" fill="#fff"/>
<rect x="536.45" y="1190.99" width="10.83" height="7.91" fill="#fff"/>
<rect x="551.90" y="1190.99" width="10.42" height="7.91" fill="#fff"/></svg>
</body></html>
